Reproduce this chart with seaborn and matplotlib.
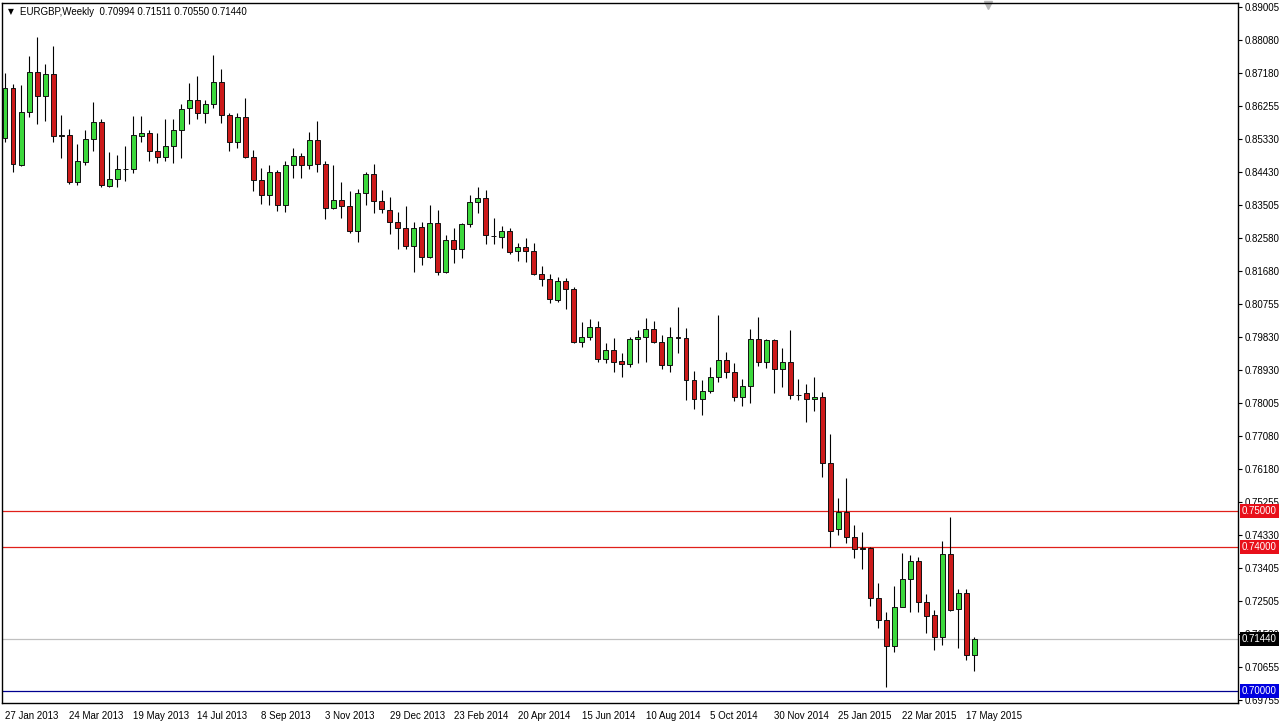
import numpy as np
import pandas as pd
import matplotlib
matplotlib.use("Agg")
import matplotlib.pyplot as plt
import seaborn as sns

SYMBOL = "EURGBP,Weekly"
FIRST_WEEK = "2013-01-27"

# weekly OHLC
open_ = [0.85353, 0.86742, 0.84611, 0.86075, 0.87186, 0.86536, 0.87139, 0.85430, 0.85436, 0.84139,
         0.84703, 0.85325, 0.85797, 0.84028, 0.84214, 0.84495, 0.84492, 0.85425, 0.85492, 0.84992,
         0.84825, 0.85139, 0.85575, 0.86186, 0.86417, 0.86047, 0.86297, 0.86908, 0.86000, 0.85258,
         0.85936, 0.84842, 0.84186, 0.83778, 0.84408, 0.83492, 0.84603, 0.84853, 0.84603, 0.85297,
         0.84631, 0.83408, 0.83639, 0.83472, 0.82786, 0.83825, 0.84361, 0.83619, 0.83353, 0.83019,
         0.82869, 0.82369, 0.82881, 0.82064, 0.82992, 0.81647, 0.82528, 0.82269, 0.82964, 0.83575,
         0.83686, 0.82650, 0.82619, 0.82769, 0.82214, 0.82325, 0.82214, 0.81575, 0.81436, 0.80861,
         0.81381, 0.81158, 0.79703, 0.79842, 0.80103, 0.79214, 0.79464, 0.79158, 0.79075, 0.79769,
         0.79825, 0.80047, 0.79703, 0.79056, 0.79820, 0.79797, 0.78639, 0.78103, 0.78333, 0.78714,
         0.79194, 0.78869, 0.78158, 0.78472, 0.79769, 0.79131, 0.79742, 0.78936, 0.79131, 0.78225,
         0.78269, 0.78103, 0.78158, 0.76325, 0.74492, 0.74981, 0.74269, 0.73936, 0.73981, 0.72575,
         0.71972, 0.71258, 0.72342, 0.73103, 0.73611, 0.72481, 0.72111, 0.71508, 0.73806, 0.72269,
         0.72714, 0.70994]
high = [0.87158, 0.86861, 0.86833, 0.87639, 0.88158, 0.87417, 0.87925, 0.86000, 0.85611, 0.85194,
        0.85583, 0.86369, 0.85881, 0.84964, 0.84889, 0.85139, 0.85972, 0.85972, 0.85583, 0.85492,
        0.85889, 0.85889, 0.86297, 0.86897, 0.87092, 0.86417, 0.87667, 0.87278, 0.86047, 0.86047,
        0.86481, 0.85019, 0.84519, 0.84611, 0.84472, 0.84731, 0.85075, 0.84936, 0.85519, 0.85833,
        0.84731, 0.84611, 0.84131, 0.83897, 0.83936, 0.84425, 0.84639, 0.83917, 0.83714, 0.83297,
        0.83472, 0.83036, 0.83036, 0.83500, 0.83361, 0.82667, 0.82853, 0.82992, 0.83778, 0.84008,
        0.83917, 0.83131, 0.82917, 0.82861, 0.82436, 0.82575, 0.82453, 0.81806, 0.81583, 0.81508,
        0.81481, 0.81231, 0.80242, 0.80325, 0.80286, 0.79675, 0.79797, 0.79397, 0.79825, 0.80028,
        0.80353, 0.80286, 0.79889, 0.80119, 0.80658, 0.80075, 0.78897, 0.78639, 0.79008, 0.80444,
        0.79425, 0.79103, 0.78658, 0.80047, 0.80381, 0.79769, 0.79769, 0.79519, 0.80028, 0.78658,
        0.78528, 0.78722, 0.78297, 0.77139, 0.75369, 0.75925, 0.74611, 0.74408, 0.74000, 0.72992,
        0.72194, 0.72917, 0.73842, 0.73778, 0.73714, 0.72686, 0.72250, 0.74175, 0.74842, 0.72825,
        0.72825, 0.71511]
low = [0.85258, 0.84425, 0.84583, 0.85953, 0.85742, 0.85842, 0.85258, 0.84814, 0.84083, 0.84056,
       0.84611, 0.85008, 0.84008, 0.84008, 0.83992, 0.84175, 0.84381, 0.85258, 0.84722, 0.84658,
       0.84731, 0.84658, 0.84797, 0.85742, 0.85889, 0.85786, 0.86186, 0.85769, 0.85008, 0.85075,
       0.84814, 0.83897, 0.83536, 0.83500, 0.83342, 0.83297, 0.84242, 0.84242, 0.84500, 0.84425,
       0.83111, 0.83381, 0.83131, 0.82714, 0.82481, 0.83500, 0.83269, 0.83269, 0.82686, 0.82278,
       0.82278, 0.81647, 0.81833, 0.82019, 0.81556, 0.81603, 0.81881, 0.82019, 0.82897, 0.83269,
       0.82417, 0.82417, 0.82297, 0.82139, 0.81953, 0.81908, 0.81556, 0.81250, 0.80786, 0.80814,
       0.80611, 0.79675, 0.79564, 0.79750, 0.79131, 0.79119, 0.78869, 0.78714, 0.79008, 0.79119,
       0.79147, 0.79658, 0.78950, 0.78869, 0.79381, 0.78083, 0.77825, 0.77667, 0.78269, 0.78592,
       0.78686, 0.78064, 0.77917, 0.77992, 0.79028, 0.78964, 0.78286, 0.78436, 0.78103, 0.78083,
       0.77472, 0.77786, 0.75936, 0.74008, 0.74333, 0.74119, 0.73703, 0.73381, 0.72361, 0.71758,
       0.70119, 0.71092, 0.72320, 0.72203, 0.72203, 0.71619, 0.71139, 0.71278, 0.72222, 0.71203,
       0.70861, 0.70550]
close = [0.86742, 0.84631, 0.86075, 0.87186, 0.86536, 0.87139, 0.85425, 0.85440, 0.84139, 0.84722,
         0.85333, 0.85797, 0.84047, 0.84214, 0.84492, 0.84505, 0.85436, 0.85492, 0.84992, 0.84825,
         0.85139, 0.85583, 0.86158, 0.86417, 0.86047, 0.86297, 0.86908, 0.86000, 0.85258, 0.85936,
         0.84842, 0.84186, 0.83778, 0.84408, 0.83492, 0.84603, 0.84853, 0.84603, 0.85297, 0.84631,
         0.83408, 0.83631, 0.83472, 0.82786, 0.83825, 0.84361, 0.83619, 0.83381, 0.83019, 0.82869,
         0.82369, 0.82869, 0.82047, 0.82992, 0.81647, 0.82528, 0.82269, 0.82964, 0.83575, 0.83686,
         0.82658, 0.82630, 0.82769, 0.82203, 0.82325, 0.82214, 0.81575, 0.81436, 0.80881, 0.81381,
         0.81158, 0.79703, 0.79842, 0.80103, 0.79214, 0.79464, 0.79147, 0.79075, 0.79769, 0.79825,
         0.80047, 0.79703, 0.79056, 0.79825, 0.79810, 0.78639, 0.78103, 0.78333, 0.78714, 0.79194,
         0.78853, 0.78158, 0.78472, 0.79769, 0.79131, 0.79742, 0.78936, 0.79131, 0.78222, 0.78215,
         0.78103, 0.78153, 0.76325, 0.74453, 0.74981, 0.74269, 0.73936, 0.73964, 0.72575, 0.71972,
         0.71258, 0.72342, 0.73111, 0.73611, 0.72481, 0.72083, 0.71508, 0.73806, 0.72250, 0.72714,
         0.70994, 0.71440]

price_ticks = [0.89005, 0.88080, 0.87180, 0.86255, 0.85330, 0.84430, 0.83505, 0.82580, 0.81680,
               0.80755, 0.79830, 0.78930, 0.78005, 0.77080, 0.76180, 0.75255, 0.74330, 0.73405,
               0.72505, 0.71580, 0.70655, 0.69755]
resistance = [0.75000, 0.74000]
support = 0.70000
DATE_STEP = 8

df = pd.DataFrame(dict(open=open_, high=high, low=low, close=close))
df["date"] = pd.date_range(FIRST_WEEK, periods=len(df), freq="7D")
df["i"] = np.arange(len(df))
up = df["close"] >= df["open"]
bid = df["close"].iloc[-1]

sns.set_theme(style="white")
plt.rcParams["font.family"] = ["Liberation Sans", "DejaVu Sans"]

fig = plt.figure(figsize=(12.82, 7.23), dpi=100)
ax = fig.add_axes([2 / 1282, 20 / 723, 1236 / 1282, 700 / 723])

# candles
ax.vlines(df["i"], df["low"], df["high"], color="black", lw=0.8, zorder=3)
body_lo = np.minimum(df["open"], df["close"])
body_h = np.maximum((df["close"] - df["open"]).abs(), 0.00002)
ax.bar(df["i"], body_h, bottom=body_lo, width=0.62,
       color=np.where(up, "#3cd83c", "#cc1a1a"), edgecolor="#111111", lw=0.7, zorder=4)

# levels
for lvl in resistance:
    ax.axhline(lvl, color="#e0201a", lw=0.9, zorder=2)
ax.axhline(bid, color="#c0c0c0", lw=0.9, zorder=2)
ax.axhline(support, color="#000090", lw=0.9, zorder=2)

ax.set_xlim(-0.375, 153.9)
ax.set_ylim(0.69667, 0.89111)

ax.yaxis.tick_right()
ax.set_yticks(price_ticks)
ax.set_yticklabels([f"{v:.5f}" for v in price_ticks])
tick_idx = df["i"].iloc[::DATE_STEP]
ax.set_xticks(tick_idx)
ax.set_xticklabels([f"{d.day} {d.strftime('%b %Y')}" for d in df["date"].iloc[::DATE_STEP]])
for lbl in ax.get_xticklabels():
    lbl.set_ha("left")
ax.tick_params(axis="y", direction="out", length=3, width=0.8, pad=2, labelsize=7, colors="black")
ax.tick_params(axis="x", direction="out", length=4, width=0.8, pad=2, labelsize=7, colors="black")
for s in ax.spines.values():
    s.set_color("black")
    s.set_linewidth(1.0)

# price tags on the right scale
tags = [(resistance[0], "#e8101a"), (resistance[1], "#e8101a"), (bid, "black"), (support, "#0000e0")]
for val, col in tags:
    ax.text(1.0 + 4 / 1236, val, f"{val:.5f}", transform=ax.get_yaxis_transform(),
            ha="left", va="center", fontsize=7, color="white", clip_on=False, zorder=6,
            bbox=dict(boxstyle="square,pad=0.18", fc=col, ec="none"))

# header
last = df.iloc[-1]
fig.text(8 / 1282, 1 - 12 / 723, "\u25bc", fontsize=5.5, va="center", color="black",
         family=["DejaVu Sans"])
fig.text(20 / 1282, 1 - 12 / 723,
         f"{SYMBOL}  {last.open:.5f} {last.high:.5f} {last.low:.5f} {last.close:.5f}",
         fontsize=7, va="center", color="black")
ax.plot(0.798, 1.0 - 2 / 700, marker="v", ms=6, color="#b8b8b8", transform=ax.transAxes, clip_on=False)

fig.savefig("out.png", dpi=100, facecolor="white")
